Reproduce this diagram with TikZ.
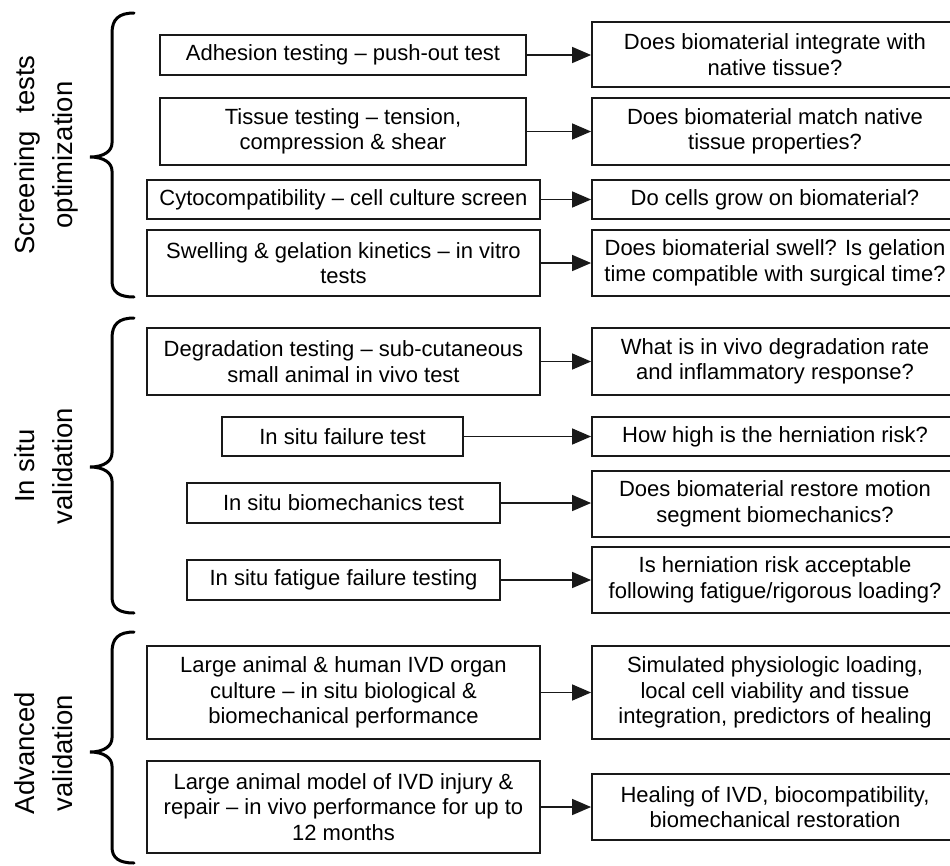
\documentclass[tikz,border=0pt]{standalone}
\usepackage{fontspec}
\setmainfont{Liberation Sans}
\usetikzlibrary{arrows.meta}
\newcommand\boxfont{\fontsize{22}{25.5}\selectfont}
\newcommand\labfont{\fontsize{27.5}{38}\selectfont}
\begin{document}
\begin{tikzpicture}[x=1pt,y=-1pt,
  tbox/.style={draw=black!90, line width=1.8pt, inner sep=0pt, align=center, font=\boxfont, text=black},
  arr/.style={line width=1.4pt, draw=black!90, -{Triangle[length=19pt,width=16pt]}},
  brc/.style={line width=3pt, draw=black, line cap=round},
  lab/.style={rotate=90, align=center, inner sep=0pt, font=\labfont, text=black}]
\useasboundingbox (0,0) rectangle (950,865);
\clip (0,0) rectangle (950,865);

% left column
\node[tbox, minimum width=366, minimum height=40] (l1) at (343,55) {Adhesion testing -- push-out test};
\node[tbox, minimum width=366, minimum height=67] (l2) at (343,131.5) {Tissue testing -- tension,\\compression \& shear};
\node[tbox, minimum width=393, minimum height=39] (l3) at (343.5,199.5) {Cytocompatibility -- cell culture screen};
\node[tbox, minimum width=393, minimum height=66] (l4) at (343.5,263) {Swelling \& gelation kinetics -- in vitro\\tests};
\node[tbox, minimum width=393, minimum height=67] (l5) at (343.5,361.5) {Degradation testing -- sub-cutaneous\\small animal in vivo test};
\node[tbox, minimum width=241, minimum height=39] (l6) at (342.5,436.5) {In situ failure test};
\node[tbox, minimum width=313, minimum height=40] (l7) at (343.5,503) {In situ biomechanics test};
\node[tbox, minimum width=313, minimum height=40] (l8) at (343.5,580) {In situ fatigue failure testing};
\node[tbox, minimum width=393, minimum height=93] (l9) at (343.5,692.5) {Large animal \& human IVD organ\\culture -- in situ biological \&\\biomechanical performance};
\node[tbox, minimum width=393, minimum height=92] (l10) at (343.5,807) {Large animal model of IVD injury \&\\repair -- in vivo performance for up to\\12 months};

% right column
\node[tbox, minimum width=366, minimum height=65] (r1) at (775,54.5) {Does biomaterial integrate with\\native tissue?};
\node[tbox, minimum width=366, minimum height=67] (r2) at (775,131.5) {Does biomaterial match native\\tissue properties?};
\node[tbox, minimum width=366, minimum height=39] (r3) at (775,199.5) {Do cells grow on biomaterial?};
\node[tbox, minimum width=366, minimum height=66] (r4) at (775,263) {Does biomaterial swell? Is gelation\\time compatible with surgical time?};
\node[tbox, minimum width=366, minimum height=67] (r5) at (775,361.5) {What is in vivo degradation rate\\and inflammatory response?};
\node[tbox, minimum width=366, minimum height=39] (r6) at (775,436.5) {How high is the herniation risk?};
\node[tbox, minimum width=366, minimum height=66] (r7) at (775,504) {Does biomaterial restore motion\\segment biomechanics?};
\node[tbox, minimum width=366, minimum height=66] (r8) at (775,580) {Is herniation risk acceptable\\following fatigue/rigorous loading?};
\node[tbox, minimum width=366, minimum height=93] (r9) at (775,692.5) {Simulated physiologic loading,\\local cell viability and tissue\\integration, predictors of healing};
\node[tbox, minimum width=366, minimum height=66] (r10) at (775,807) {Healing of IVD, biocompatibility,\\biomechanical restoration};

% arrows
\foreach \i in {1,...,10} {
  \draw[arr] (l\i.east) -- (l\i.east -| r\i.west);
}

% braces
\draw[brc] (134,13) .. controls (119,13) and (112,19) .. (112,33) -- (112,143)
  .. controls (112,151) and (104,157) .. (90,157)
  .. controls (104,157) and (112,163) .. (112,171) -- (112,281)
  .. controls (112,292) and (119,297) .. (134,297);
\draw[brc] (134,318) .. controls (119,318) and (112,324) .. (112,338) -- (112,453)
  .. controls (112,461) and (104,467) .. (90,467)
  .. controls (104,467) and (112,473) .. (112,481) -- (112,597)
  .. controls (112,608) and (119,613) .. (134,613);
\draw[brc] (134,632) .. controls (119,632) and (112,638) .. (112,652) -- (112,738)
  .. controls (112,746) and (104,752) .. (90,752)
  .. controls (104,752) and (112,758) .. (112,766) -- (112,847)
  .. controls (112,858) and (119,863) .. (134,863);

% labels
\node[lab] (g1) at (46.5,155) {Screening\hspace{0.35em} tests\\optimization};
\node[lab] (g2) at (43.7,466) {In situ\\validation};
\node[lab] (g3) at (43.7,753) {Advanced\\validation};
\end{tikzpicture}
\end{document}
